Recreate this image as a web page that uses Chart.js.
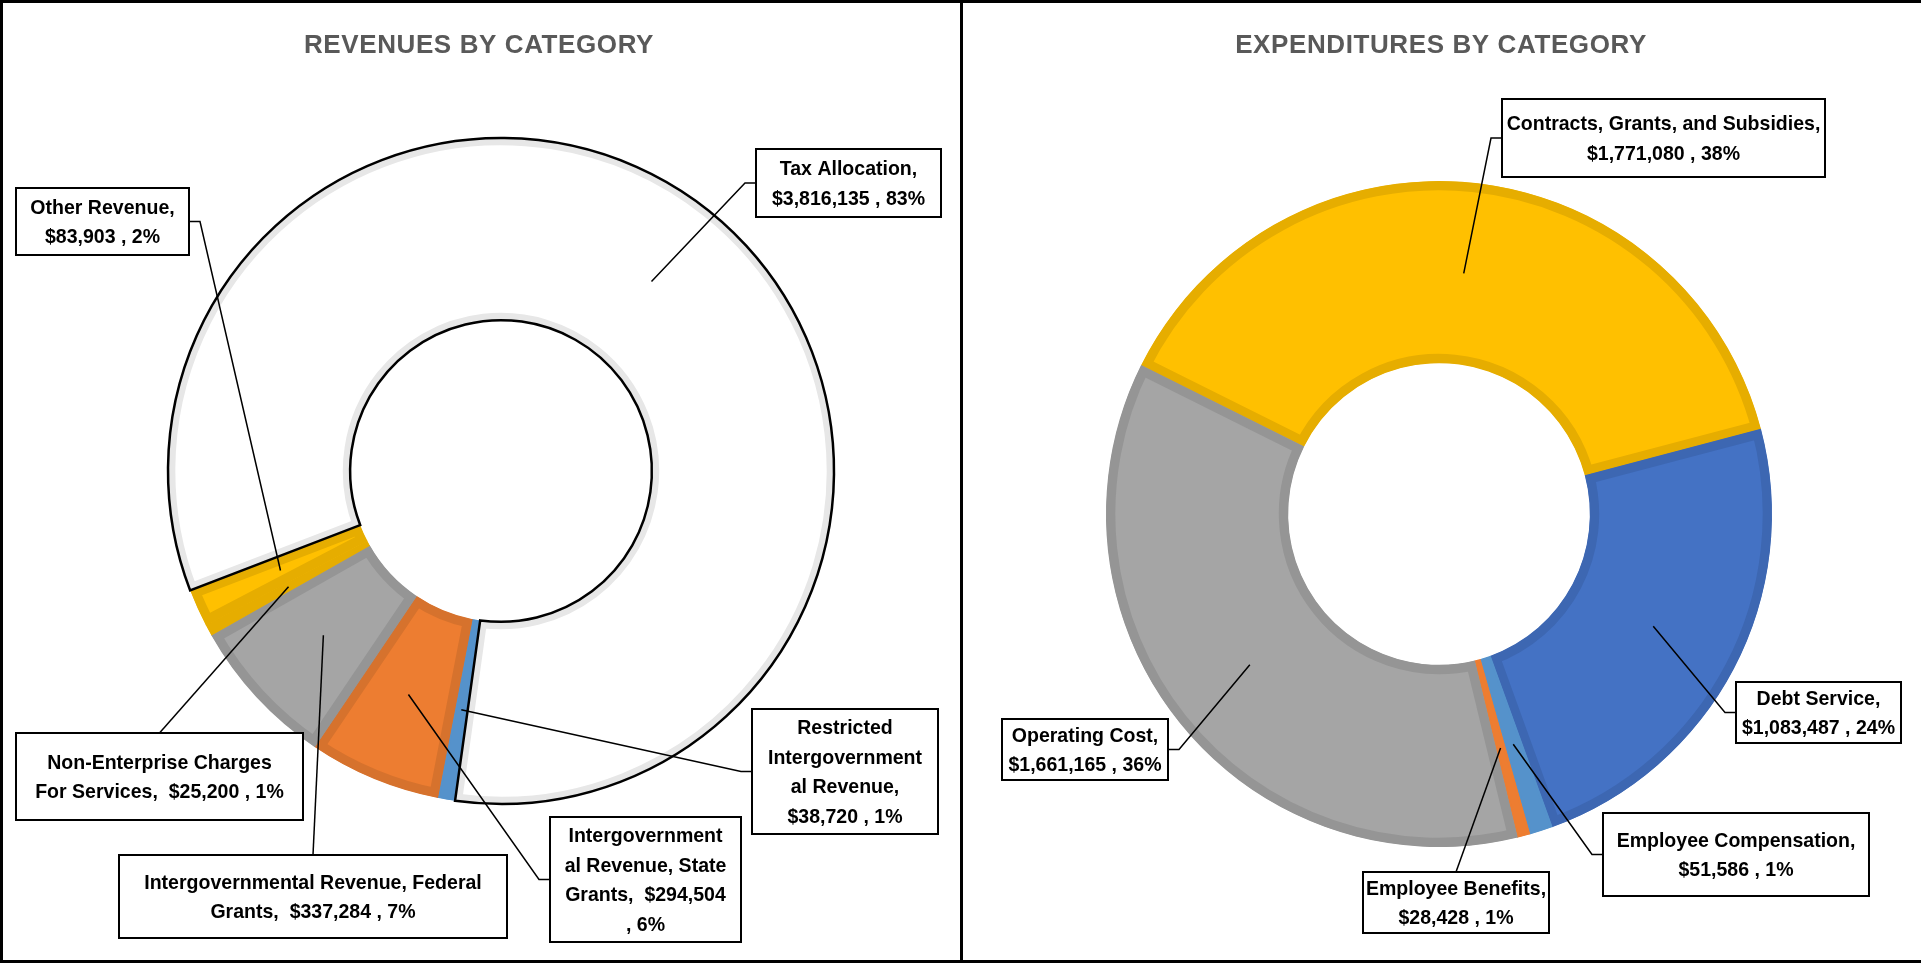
<!DOCTYPE html>
<html>
<head>
<meta charset="utf-8">
<title>Revenues and Expenditures by Category</title>
<script src="https://cdn.jsdelivr.net/npm/chart.js@4.4.1/dist/chart.umd.min.js"></script>
<style>
  html, body { margin: 0; padding: 0; background: #fff; overflow: hidden; }
  body { width: 1921px; height: 964px; position: relative; }
  .panel { position: absolute; top: 0; height: 963px; box-sizing: border-box; border: 3px solid #000; }
  #leftPanel { left: 0; width: 963px; }
  #rightPanel { left: 960px; width: 964px; }
  canvas { position: absolute; top: 0; }
  #revChart { left: 0; }
  #expChart { left: 960px; }
</style>
</head>
<body>
<div class="panel" id="leftPanel"></div>
<div class="panel" id="rightPanel"></div>
<canvas id="revChart" width="960" height="964"></canvas>
<canvas id="expChart" width="961" height="964"></canvas>
<script>
// data
const revTitle = 'REVENUES BY CATEGORY';
const revCategories = ['Tax Allocation', 'Restricted Intergovernmental Revenue', 'Intergovernmental Revenue, State Grants',
  'Intergovernmental Revenue, Federal Grants', 'Non-Enterprise Charges For Services', 'Other Revenue'];
const revValues = [3816135, 38720, 294504, 337284, 25200, 83903];
const revPercents = [83, 1, 6, 7, 1, 2];

const expTitle = 'EXPENDITURES BY CATEGORY';
const expCategories = ['Contracts, Grants, and Subsidies', 'Debt Service', 'Employee Compensation', 'Employee Benefits', 'Operating Cost'];
const expValues = [1771080, 1083487, 51586, 28428, 1661165];
const expPercents = [38, 24, 1, 1, 36];

// styles
const revFill   = ['#FFFFFF', '#5592CB', '#ED7D31', '#A5A5A5', '#FFC000', '#FFC000'];
const revBorder = ['#E7E7E7', '#5592CB', '#D6722D', '#959595', '#E6AD00', '#E6AD00'];
const revBorderW = [7, 2, 9, 9, 9, 9];
const expFill   = ['#FFC000', '#4472C4', '#5592CB', '#ED7D31', '#A5A5A5'];
const expBorder = ['#E6AD00', '#3D67B2', '#5592CB', '#ED7D31', '#959595'];
const expBorderW = [9, 9, 2, 2, 9];

// callout boxes: [x, y, w, h] in canvas pixels, side the leader line enters, line breaks (chars)
const revCallouts = [
  { box: [756, 149, 185, 68], side: 'left', breaks: [15] },
  { box: [752, 709, 186, 125], side: 'left', breaks: [10, 15, 11] },
  { box: [550, 817, 191, 125], side: 'left', breaks: [15, 17, 17] },
  { box: [119, 855, 388, 83], side: 'top', breaks: [34] },
  { box: [16, 733, 287, 87], side: 'top', breaks: [22] },
  { box: [16, 188, 173, 67], side: 'right', breaks: [14] }
];
const expCallouts = [
  { box: [542, 99, 323, 78], side: 'left', breaks: [33] },
  { box: [776, 682, 165, 61], side: 'left', breaks: [13] },
  { box: [643, 813, 266, 83], side: 'left', breaks: [22] },
  { box: [403, 872, 186, 61], side: 'top', breaks: [18] },
  { box: [42, 719, 166, 61], side: 'right', breaks: [15] }
];

const labelFont = '"Liberation Sans", Arial, sans-serif';
const narrow = 0.93; // squeeze Arial-like glyphs towards Calibri widths

const money = v => '$' + v.toLocaleString('en-US');

function labelLines(name, value, pct, breaks) {
  let rest = name + ',  ' + money(value) + ' , ' + pct + '%';
  const lines = [];
  breaks.forEach(n => {
    lines.push(rest.slice(0, n).trimEnd());
    rest = rest.slice(n).trimStart();
  });
  lines.push(rest);
  return lines;
}

function squeezedText(ctx, t, x, y, sx) {
  ctx.save();
  ctx.translate(x, y);
  ctx.scale(sx, 1);
  ctx.fillText(t, 0, 0);
  ctx.restore();
}

const calloutPlugin = {
  id: 'callouts',
  afterDatasetsDraw(chart, args, opts) {
    const ctx = chart.ctx;
    const meta = chart.getDatasetMeta(0);
    ctx.save();

    // black outline round the highlighted slice
    (opts.outline || []).forEach(i => {
      const p = meta.data[i].getProps(['x', 'y', 'startAngle', 'endAngle', 'innerRadius', 'outerRadius'], true);
      ctx.beginPath();
      ctx.arc(p.x, p.y, p.outerRadius, p.startAngle, p.endAngle);
      ctx.arc(p.x, p.y, p.innerRadius, p.endAngle, p.startAngle, true);
      ctx.closePath();
      ctx.lineWidth = 2.5;
      ctx.strokeStyle = '#000';
      ctx.stroke();
    });

    // title
    ctx.fillStyle = '#595959';
    ctx.font = 'bold 26px ' + labelFont;
    ctx.letterSpacing = '0.6px';
    ctx.textAlign = 'center';
    ctx.textBaseline = 'middle';
    squeezedText(ctx, opts.title, opts.titleX, 46, 1);
    ctx.letterSpacing = '0px';

    // leader lines and boxes
    opts.callouts.forEach((c, i) => {
      const anchor = meta.data[i].getCenterPoint(true);
      const [bx, by, bw, bh] = c.box;
      ctx.strokeStyle = '#000';
      ctx.lineWidth = 1.5;
      ctx.beginPath();
      ctx.moveTo(anchor.x, anchor.y);
      if (c.side === 'left') {
        ctx.lineTo(bx - 11, by + bh / 2);
        ctx.lineTo(bx, by + bh / 2);
      } else if (c.side === 'right') {
        ctx.lineTo(bx + bw + 11, by + bh / 2);
        ctx.lineTo(bx + bw, by + bh / 2);
      } else {
        ctx.lineTo(bx + bw / 2, by);
      }
      ctx.stroke();

      ctx.fillStyle = '#fff';
      ctx.fillRect(bx, by, bw, bh);
      ctx.lineWidth = 2;
      ctx.strokeRect(bx, by, bw, bh);

      const lines = labelLines(opts.names[i], opts.values[i], opts.percents[i], c.breaks);
      ctx.fillStyle = '#000';
      ctx.font = 'bold 21px ' + labelFont;
      const lh = 29.5;
      const y0 = by + bh / 2 - (lines.length - 1) * lh / 2 + 1;
      lines.forEach((t, k) => squeezedText(ctx, t, bx + bw / 2, y0 + k * lh, narrow));
    });
    ctx.restore();
  }
};

function makeDonut(canvasId, cfg) {
  const canvas = document.getElementById(canvasId);
  const half = 340;
  new Chart(canvas, {
    type: 'doughnut',
    data: {
      labels: cfg.names,
      datasets: [{
        data: cfg.values,
        backgroundColor: cfg.fill,
        borderColor: cfg.border,
        borderWidth: cfg.borderW,
        borderAlign: 'inner',
        hoverOffset: 0,
        offset: 0
      }]
    },
    options: {
      responsive: false,
      animation: false,
      events: [],
      radius: 333,
      cutout: '45.3%',
      rotation: cfg.rotation,
      layout: {
        padding: {
          left: cfg.cx - half,
          right: canvas.width - cfg.cx - half,
          top: cfg.cy - half,
          bottom: canvas.height - cfg.cy - half
        }
      },
      plugins: {
        legend: { display: false },
        tooltip: { enabled: false },
        title: { display: false },
        callouts: {
          title: cfg.title,
          titleX: cfg.titleX,
          outline: cfg.outline,
          callouts: cfg.callouts,
          names: cfg.names,
          values: cfg.values,
          percents: cfg.percents
        }
      }
    },
    plugins: [calloutPlugin]
  });
}

makeDonut('revChart', {
  names: revCategories, values: revValues, percents: revPercents,
  fill: revFill, border: revBorder, borderW: revBorderW,
  rotation: 249, cx: 501, cy: 471, title: revTitle, titleX: 479,
  outline: [0], callouts: revCallouts
});

makeDonut('expChart', {
  names: expCategories, values: expValues, percents: expPercents,
  fill: expFill, border: expBorder, borderW: expBorderW,
  rotation: 296.5, cx: 479, cy: 514, title: expTitle, titleX: 481,
  outline: [], callouts: expCallouts
});
</script>
</body>
</html>
